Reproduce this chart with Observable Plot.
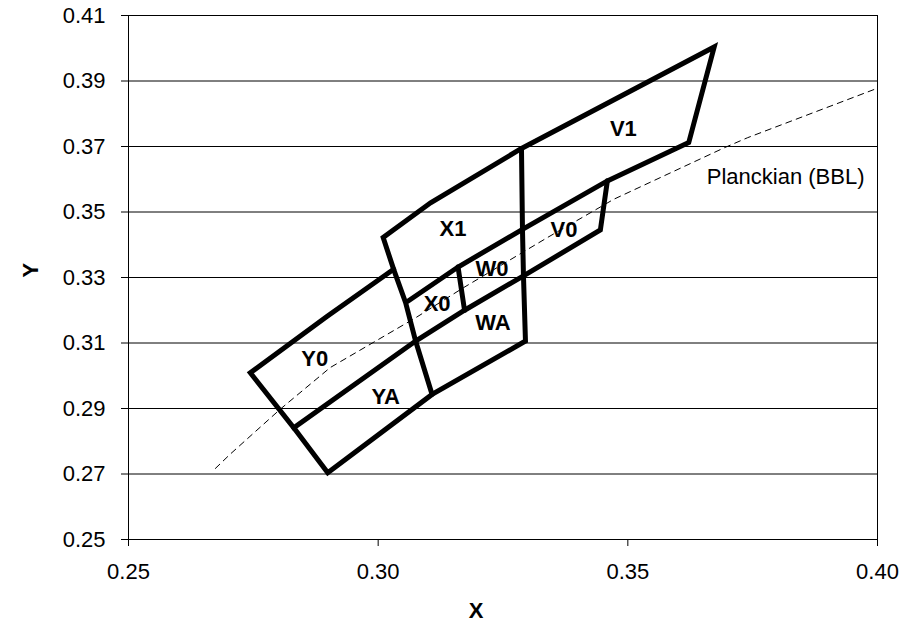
<!DOCTYPE html>
<html>
<head>
<meta charset="utf-8">
<script src="https://cdn.jsdelivr.net/npm/d3@7"></script>
<script src="https://cdn.jsdelivr.net/npm/@observablehq/plot@0.6"></script>
<style>
  html, body { margin: 0; padding: 0; background: #fff; }
  #chart { width: 908px; height: 631px; }
</style>
</head>
<body>
<div id="chart"></div>
<script>
// Tick values
const xTicks = [0.25, 0.30, 0.35, 0.40];
const yTicks = [0.25, 0.27, 0.29, 0.31, 0.33, 0.35, 0.37, 0.39, 0.41];

// Quadrangle boundary chains (x, y chromaticity)
const chainUpperOuter = [
  [0.3055, 0.3223], [0.3160, 0.3332], [0.3289, 0.3447], [0.3459, 0.3595],
  [0.3622, 0.3712], [0.3673, 0.4004], [0.3287, 0.3694], [0.3105, 0.3528],
  [0.3010, 0.3422], [0.3031, 0.3325], [0.3055, 0.3223], [0.3075, 0.3106],
  [0.3108, 0.2943]
];
const chainMiddle = [
  [0.3459, 0.3595], [0.3445, 0.3445], [0.3291, 0.3305], [0.3173, 0.3200],
  [0.3075, 0.3106], [0.2831, 0.2841], [0.2744, 0.3009], [0.2898, 0.3182],
  [0.3031, 0.3325]
];
const chainLowerRight = [
  [0.2831, 0.2841], [0.2899, 0.2704], [0.3108, 0.2943], [0.3295, 0.3106],
  [0.3291, 0.3305], [0.3289, 0.3447], [0.3287, 0.3694]
];
const chainDivider = [[0.3160, 0.3332], [0.3173, 0.3200]];

// Planckian locus (dashed)
const planckX = [0.2674, 0.2704, 0.2804, 0.2904, 0.3075, 0.3171, 0.3339, 0.3472, 0.3693, 0.3740, 0.4000];
const planckY = [0.2717, 0.2761, 0.2898, 0.3025, 0.3177, 0.3269, 0.3422, 0.3539, 0.3696, 0.3727, 0.3878];

// Region labels
const labelNames = ["V1", "V0", "X1", "W0", "X0", "WA", "Y0", "YA"];
const labelX = [0.3491, 0.3372, 0.3150, 0.3228, 0.3118, 0.3230, 0.2873, 0.3015];
const labelY = [0.3754, 0.3445, 0.3447, 0.3325, 0.3218, 0.3162, 0.3050, 0.2935];

const chains = { a: chainUpperOuter, b: chainMiddle, c: chainLowerRight, d: chainDivider };
const edgeRows = [];
for (const [name, pts] of Object.entries(chains)) {
  for (const [x, y] of pts) edgeRows.push({ seg: name, x, y });
}
const planckRows = planckX.map((x, i) => ({ x, y: planckY[i] }));
const labelRows = labelNames.map((t, i) => ({ t, x: labelX[i], y: labelY[i] }));

const font = "'Liberation Sans', Arial, Helvetica, sans-serif";

const chart = Plot.plot({
  width: 908,
  height: 631,
  marginLeft: 128,
  marginRight: 31,
  marginTop: 15,
  marginBottom: 92,
  style: { fontFamily: font, fontSize: "22px", color: "#000", background: "#fff" },
  x: { domain: [0.25, 0.40] },
  y: { domain: [0.25, 0.41] },
  marks: [
    Plot.ruleY(yTicks, { stroke: "#000", strokeWidth: 1 }),
    Plot.frame({ stroke: "#000", strokeWidth: 1 }),
    Plot.axisY({ ticks: yTicks, tickSize: 7, tickPadding: 16, tickFormat: d3.format(".2f"), label: null, fontSize: 22, stroke: "#000" }),
    Plot.axisX({ ticks: xTicks, tickSize: 7, tickPadding: 17, tickFormat: d3.format(".2f"), label: null, fontSize: 22, stroke: "#000" }),
    Plot.line(planckRows, { x: "x", y: "y", stroke: "#000", strokeWidth: 1, strokeDasharray: "6,5" }),
    Plot.line(edgeRows, { x: "x", y: "y", z: "seg", stroke: "#000", strokeWidth: 5, strokeLinejoin: "miter", strokeMiterlimit: 10 }),
    Plot.text(labelRows, { x: "x", y: "y", text: "t", fontSize: 22, fontWeight: "bold", fill: "#000" }),
    Plot.text(["Planckian (BBL)"], { x: 0.3658, y: 0.3607, textAnchor: "start", fontSize: 22, fill: "#000" }),
    Plot.text(["Y"], { frameAnchor: "left", dx: -98, rotate: -90, fontSize: 22, fontWeight: "bold", fill: "#000" }),
    Plot.text(["X"], { frameAnchor: "bottom", dx: -27, dy: 78, fontSize: 22, fontWeight: "bold", fill: "#000" })
  ]
});
document.getElementById("chart").appendChild(chart);
</script>
</body>
</html>
